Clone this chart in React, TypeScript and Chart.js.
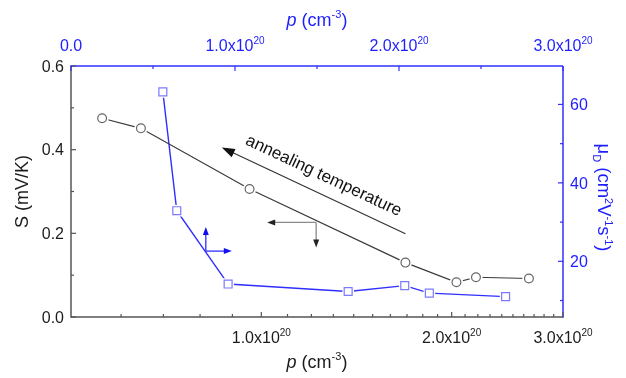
import React, { useEffect, useRef } from 'react';
import { Chart, registerables } from 'chart.js';

Chart.register(...registerables);

// ---- data (hole concentration in units of 10^20 cm^-3) ----
const pValues = [0.56, 0.645, 0.958, 1.69, 2.035, 2.185, 2.65];
const seebeck = [0.475, 0.451, 0.306, 0.13, 0.083, 0.095, 0.092]; // mV/K
const mobility = [63.2, 32.9, 14.2, 12.3, 13.8, 11.9, 11.0]; // cm2/Vs

// ---- ticks ----
const leftTicks = [0, 0.2, 0.4, 0.6];
const leftMinor = [0.1, 0.3, 0.5];
const rightTicks = [20, 40, 60];
const rightMinor = [10, 30, 50];
const bottomTicks = [1, 2, 3];
const bottomMinor = [0.6, 0.7, 0.8, 0.9, 1.1, 1.2, 1.3, 1.4, 1.5, 1.6, 1.7, 1.8, 1.9, 2.1, 2.2, 2.3, 2.4, 2.5, 2.6, 2.7, 2.8, 2.9];
const topTicks = [0, 1, 2, 3];
const topMinor = [0.5, 1.5, 2.5];

// ---- annotation anchors (data units) ----
const arrowTail = { x: 1.69, y: 0.199 }; // bottom / left axes
const arrowTip = { x: 0.866, y: 0.405 };
const annCenter = { x: 1.257, y: 0.34 };
const annText = 'annealing temperature';
const grayCorner = { x: 1.221, y: 0.226 }; // bottom / left axes
const blueCorner = { x: 0.822, y: 22.6 }; // top / right axes

const FAM = '"Liberation Sans", Arial, Helvetica, sans-serif';
const BLUE = '#2f2fff';
const BLUE_TEXT = '#1e1eff';
const DARK = '#1c1c1c';
const AXIS_GRAY = '#555555';

type Part = { t: string; kind?: 'sup' | 'sub'; italic?: boolean };

function fontFor(p: Part, size: number) {
  const s = p.kind ? Math.round(size * 0.62) : size;
  return `${p.italic ? 'italic ' : ''}${s}px ${FAM}`;
}
function richWidth(ctx: CanvasRenderingContext2D, parts: Part[], size: number) {
  let w = 0;
  for (const p of parts) {
    ctx.font = fontFor(p, size);
    w += ctx.measureText(p.t).width;
  }
  return w;
}
function drawRich(
  ctx: CanvasRenderingContext2D,
  parts: Part[],
  x: number,
  baseline: number,
  size: number,
  color: string,
  align: 'left' | 'center' | 'right'
) {
  const total = richWidth(ctx, parts, size);
  let cx = align === 'left' ? x : align === 'center' ? x - total / 2 : x - total;
  ctx.fillStyle = color;
  ctx.textBaseline = 'alphabetic';
  ctx.textAlign = 'left';
  for (const p of parts) {
    ctx.font = fontFor(p, size);
    const dy = p.kind === 'sup' ? -size * 0.42 : p.kind === 'sub' ? size * 0.25 : 0;
    ctx.fillText(p.t, cx, baseline + dy);
    cx += ctx.measureText(p.t).width;
  }
}
function line(ctx: CanvasRenderingContext2D, x1: number, y1: number, x2: number, y2: number) {
  ctx.beginPath();
  ctx.moveTo(x1, y1);
  ctx.lineTo(x2, y2);
  ctx.stroke();
}
function arrowHead(ctx: CanvasRenderingContext2D, tx: number, ty: number, ang: number, len: number, half: number, color: string) {
  ctx.save();
  ctx.translate(tx, ty);
  ctx.rotate(ang);
  ctx.beginPath();
  ctx.moveTo(0, 0);
  ctx.lineTo(-len, -half);
  ctx.lineTo(-len, half);
  ctx.closePath();
  ctx.fillStyle = color;
  ctx.fill();
  ctx.restore();
}
const sci = (v: number): Part[] =>
  v === 0 ? [{ t: '0.0' }] : [{ t: `${v.toFixed(1)}x10` }, { t: '20', kind: 'sup' }];

const framePlugin = {
  id: 'frame',
  beforeDatasetsDraw(chart: any) {
    const ctx: CanvasRenderingContext2D = chart.ctx;
    const { left, right, top, bottom } = chart.chartArea;
    const xb = chart.scales.xBottom, xt = chart.scales.xTop, yl = chart.scales.yLeft, yr = chart.scales.yRight;
    ctx.save();
    ctx.lineWidth = 1.5;
    ctx.strokeStyle = AXIS_GRAY;
    line(ctx, left, top, left, bottom + 0.75);
    line(ctx, left, bottom, right, bottom);
    ctx.strokeStyle = BLUE;
    line(ctx, left - 0.75, top, right, top);
    line(ctx, right, top, right, bottom + 0.75);
    // ticks (inward)
    ctx.lineWidth = 1.2;
    ctx.strokeStyle = AXIS_GRAY;
    leftTicks.forEach(v => { const y = yl.getPixelForValue(v); line(ctx, left, y, left + 5, y); });
    leftMinor.forEach(v => { const y = yl.getPixelForValue(v); line(ctx, left, y, left + 3, y); });
    bottomTicks.forEach(v => { const x = xb.getPixelForValue(v); line(ctx, x, bottom, x, bottom - 5); });
    bottomMinor.forEach(v => { const x = xb.getPixelForValue(v); line(ctx, x, bottom, x, bottom - 3); });
    ctx.strokeStyle = BLUE;
    rightTicks.forEach(v => { const y = yr.getPixelForValue(v); line(ctx, right, y, right - 5, y); });
    rightMinor.forEach(v => { const y = yr.getPixelForValue(v); line(ctx, right, y, right - 3, y); });
    topTicks.forEach(v => { const x = xt.getPixelForValue(v); line(ctx, x, top, x, top + 5); });
    topMinor.forEach(v => { const x = xt.getPixelForValue(v); line(ctx, x, top, x, top + 3); });
    ctx.restore();
  },
  afterDraw(chart: any) {
    const ctx: CanvasRenderingContext2D = chart.ctx;
    const { left, right, top, bottom } = chart.chartArea;
    const xb = chart.scales.xBottom, xt = chart.scales.xTop, yl = chart.scales.yLeft, yr = chart.scales.yRight;
    ctx.save();
    const fs = 16;
    // tick labels
    leftTicks.forEach(v => drawRich(ctx, [{ t: v.toFixed(1) }], left - 7, yl.getPixelForValue(v) + fs * 0.36, fs, DARK, 'right'));
    rightTicks.forEach(v => drawRich(ctx, [{ t: String(v) }], right + 7, yr.getPixelForValue(v) + fs * 0.36, fs, BLUE_TEXT, 'left'));
    bottomTicks.forEach(v => drawRich(ctx, sci(v), xb.getPixelForValue(v), bottom + 26, fs, DARK, 'center'));
    topTicks.forEach(v => drawRich(ctx, sci(v), xt.getPixelForValue(v), top - 15, fs, BLUE_TEXT, 'center'));

    // axis titles
    const ts = 18;
    const pTitle: Part[] = [{ t: 'p', italic: true }, { t: ' (cm' }, { t: '-3', kind: 'sup' }, { t: ')' }];
    const cxPlot = (left + right) / 2;
    const cyPlot = (top + bottom) / 2;
    drawRich(ctx, pTitle, cxPlot, bottom + 51, ts, DARK, 'center');
    drawRich(ctx, pTitle, cxPlot, top - 40, ts, BLUE_TEXT, 'center');
    ctx.save();
    ctx.translate(left - 49, cyPlot);
    ctx.rotate(-Math.PI / 2);
    drawRich(ctx, [{ t: 'S (mV/K)' }], 0, ts * 0.36, ts, DARK, 'center');
    ctx.restore();
    ctx.save();
    ctx.translate(right + 41, cyPlot + 6);
    ctx.rotate(Math.PI / 2);
    drawRich(
      ctx,
      [
        { t: 'μ' }, { t: 'D', kind: 'sub' }, { t: ' (cm' }, { t: '2', kind: 'sup' }, { t: 'V' },
        { t: '-1', kind: 'sup' }, { t: 's' }, { t: '-1', kind: 'sup' }, { t: ')' },
      ],
      0,
      ts * 0.36,
      18.5,
      BLUE_TEXT,
      'center'
    );
    ctx.restore();

    // big annotation arrow
    const tx = xb.getPixelForValue(arrowTip.x), ty = yl.getPixelForValue(arrowTip.y);
    const sx = xb.getPixelForValue(arrowTail.x), sy = yl.getPixelForValue(arrowTail.y);
    const ang = Math.atan2(ty - sy, tx - sx);
    ctx.strokeStyle = '#333';
    ctx.lineWidth = 1.2;
    line(ctx, sx, sy, tx - 10 * Math.cos(ang), ty - 10 * Math.sin(ang));
    arrowHead(ctx, tx, ty, ang, 13, 4.5, '#111');
    const textAng = Math.atan2(sy - ty, sx - tx);
    ctx.save();
    ctx.translate(xb.getPixelForValue(annCenter.x), yl.getPixelForValue(annCenter.y));
    ctx.rotate(textAng);
    drawRich(ctx, [{ t: annText }], 0, 6, 17, '#111', 'center');
    ctx.restore();

    // gray axis indicator (points to left / down)
    const gx = xb.getPixelForValue(grayCorner.x), gy = yl.getPixelForValue(grayCorner.y);
    ctx.strokeStyle = '#8a8a8a';
    ctx.lineWidth = 1.3;
    line(ctx, gx, gy, gx - 42, gy);
    line(ctx, gx, gy, gx, gy + 18);
    arrowHead(ctx, gx - 49, gy, Math.PI, 8, 3, '#222');
    arrowHead(ctx, gx, gy + 25, Math.PI / 2, 8, 3, '#222');

    // blue axis indicator (points up / right)
    const bx = xt.getPixelForValue(blueCorner.x), by = yr.getPixelForValue(blueCorner.y);
    ctx.strokeStyle = BLUE;
    line(ctx, bx, by, bx, by - 17);
    line(ctx, bx, by, bx + 19, by);
    arrowHead(ctx, bx, by - 24, -Math.PI / 2, 8, 3, '#1010ee');
    arrowHead(ctx, bx + 26, by, 0, 8, 3, '#1010ee');
    ctx.restore();
  },
};

export default function App() {
  const ref = useRef<HTMLCanvasElement>(null);
  useEffect(() => {
    const blackPts = pValues.map((p, i) => ({ x: p, y: seebeck[i] }));
    const bluePts = pValues.map((p, i) => ({ x: p, y: mobility[i] }));
    const chart = new Chart(ref.current as HTMLCanvasElement, {
      type: 'scatter',
      data: {
        datasets: [
          // markers
          {
            data: blackPts, xAxisID: 'xBottom', yAxisID: 'yLeft', order: 1, showLine: false,
            pointStyle: 'circle', pointRadius: 4.4, pointBorderColor: '#666', pointBorderWidth: 1.2,
            pointBackgroundColor: '#fff',
          },
          {
            data: bluePts, xAxisID: 'xTop', yAxisID: 'yRight', order: 1, showLine: false,
            pointStyle: 'rect', pointRadius: 5.6, pointBorderColor: '#7a7aff', pointBorderWidth: 1.2,
            pointBackgroundColor: '#fff',
          },
          // white gaps around markers
          {
            data: blackPts, xAxisID: 'xBottom', yAxisID: 'yLeft', order: 2, showLine: false,
            pointStyle: 'circle', pointRadius: 6.6, pointBorderWidth: 0, pointBorderColor: '#fff',
            pointBackgroundColor: '#fff',
          },
          {
            data: bluePts, xAxisID: 'xTop', yAxisID: 'yRight', order: 2, showLine: false,
            pointStyle: 'rect', pointRadius: 8.2, pointBorderWidth: 0, pointBorderColor: '#fff',
            pointBackgroundColor: '#fff',
          },
          // connecting lines
          {
            data: blackPts, xAxisID: 'xBottom', yAxisID: 'yLeft', order: 3, showLine: true,
            borderColor: '#3a3a3a', borderWidth: 1.2, pointRadius: 0, tension: 0,
          },
          {
            data: bluePts, xAxisID: 'xTop', yAxisID: 'yRight', order: 3, showLine: true,
            borderColor: '#2f2fff', borderWidth: 1.4, pointRadius: 0, tension: 0,
          },
        ],
      },
      options: {
        animation: false,
        responsive: false,
        devicePixelRatio: 1,
        layout: { padding: 0 },
        plugins: { legend: { display: false }, tooltip: { enabled: false } },
        events: [],
        scales: {
          xBottom: {
            type: 'logarithmic', position: 'bottom', min: 0.5, max: 3,
            ticks: { display: false }, grid: { display: false }, border: { display: false },
            afterFit: (s: any) => { s.height = 61; },
          },
          xTop: {
            type: 'linear', position: 'top', min: 0, max: 3,
            ticks: { display: false }, grid: { display: false }, border: { display: false },
            afterFit: (s: any) => { s.height = 66; },
          },
          yLeft: {
            type: 'linear', position: 'left', min: 0, max: 0.6,
            ticks: { display: false }, grid: { display: false }, border: { display: false },
            afterFit: (s: any) => { s.width = 71; },
          },
          yRight: {
            type: 'linear', position: 'right', min: 5.8, max: 69.8,
            ticks: { display: false }, grid: { display: false }, border: { display: false },
            afterFit: (s: any) => { s.width = 63; },
          },
        },
      } as any,
      plugins: [framePlugin],
    });
    return () => chart.destroy();
  }, []);
  return (
    <div style={{ position: 'fixed', left: 0, top: 0, width: 626, height: 378, background: '#fff' }}>
      <canvas ref={ref} width={626} height={378} style={{ display: 'block' }} />
    </div>
  );
}
